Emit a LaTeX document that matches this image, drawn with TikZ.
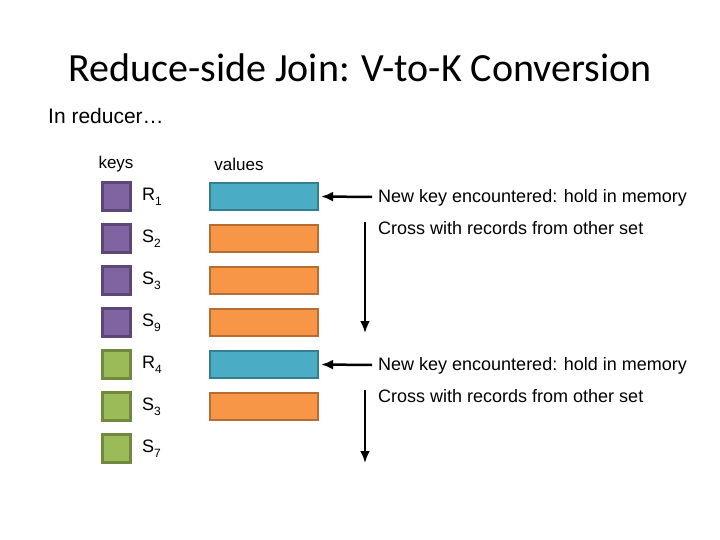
\documentclass[tikz,border=0pt]{standalone}
\usepackage{fontspec}
\setmainfont{Liberation Sans}
\newfontfamily\titlefont{Carlito}
\usetikzlibrary{arrows.meta}
\definecolor{purp}{HTML}{8064A2}\definecolor{purpd}{HTML}{5C4776}
\definecolor{grn}{HTML}{9BBB59}\definecolor{grnd}{HTML}{71893F}
\definecolor{blu}{HTML}{4BACC6}\definecolor{blud}{HTML}{357D91}
\definecolor{org}{HTML}{F79646}\definecolor{orgd}{HTML}{B66D31}
\begin{document}
\begin{tikzpicture}[x=1pt,y=-1pt,
 keybox/.style={draw=#1d,fill=#1,line width=2.2pt,minimum width=28pt,minimum height=28pt,inner sep=0pt},
 valbox/.style={draw=#1d,fill=#1,line width=2.2pt,minimum width=108pt,minimum height=27pt,inner sep=0pt},
 lab/.style={anchor=west,font=\fontsize{18}{21}\selectfont,inner sep=0pt},
 arr/.style={-{Latex[length=12pt,width=10pt]},line width=2.5pt}]
\useasboundingbox (0,0) rectangle (720,540);
\node[font=\titlefont\fontsize{40}{44}\selectfont] (title) at (360,68) {Reduce-side Join: V-to-K Conversion};
\node[anchor=west,font=\fontsize{21}{24}\selectfont,inner sep=0pt] (in) at (48,116) {In reducer\ldots};
\node[font=\fontsize{17}{20}\selectfont] (keys) at (116,164) {keys};
\node[font=\fontsize{17}{20}\selectfont] (vals) at (239,164) {values};
\foreach \i/\c/\v/\t/\s in {0/purp/blu/R/1,1/purp/org/S/2,2/purp/org/S/3,3/purp/org/S/9,4/grn/blu/R/4,5/grn/org/S/3,6/grn/org/S/7}{
 \node[keybox=\c] (k\i) at (116.5,{196.5+42*\i}) {};
 \node[lab] (l\i) at (142,{196.5+42*\i}) {\t\raisebox{-5pt}{\fontsize{12}{13}\selectfont\s}};
}
\foreach \i/\c in {0/blu,1/org,2/org,3/org,4/blu,5/org}{
 \node[valbox=\c] (v\i) at (264,{196.5+42*\i}) {};
}
\node[lab] (n1) at (378,198) {New key encountered: hold in memory};
\node[lab] (c1) at (378,228) {Cross with records from other set};
\node[lab] (n2) at (378,366) {New key encountered: hold in memory};
\node[lab] (c2) at (378,396) {Cross with records from other set};
\coordinate (a1) at (372,197); \coordinate (a2) at (372,365);
\draw[arr] (a1) -- ([xshift=2pt]v0.east);
\draw[arr] (a2) -- ([xshift=2pt]v4.east);
\coordinate (t1) at (365,222); \coordinate (b1) at (365,333);
\coordinate (t2) at (365,390); \coordinate (b2) at (365,463);
\draw[arr] (t1) -- (b1);
\draw[arr] (t2) -- (b2);
\end{tikzpicture}
\end{document}
